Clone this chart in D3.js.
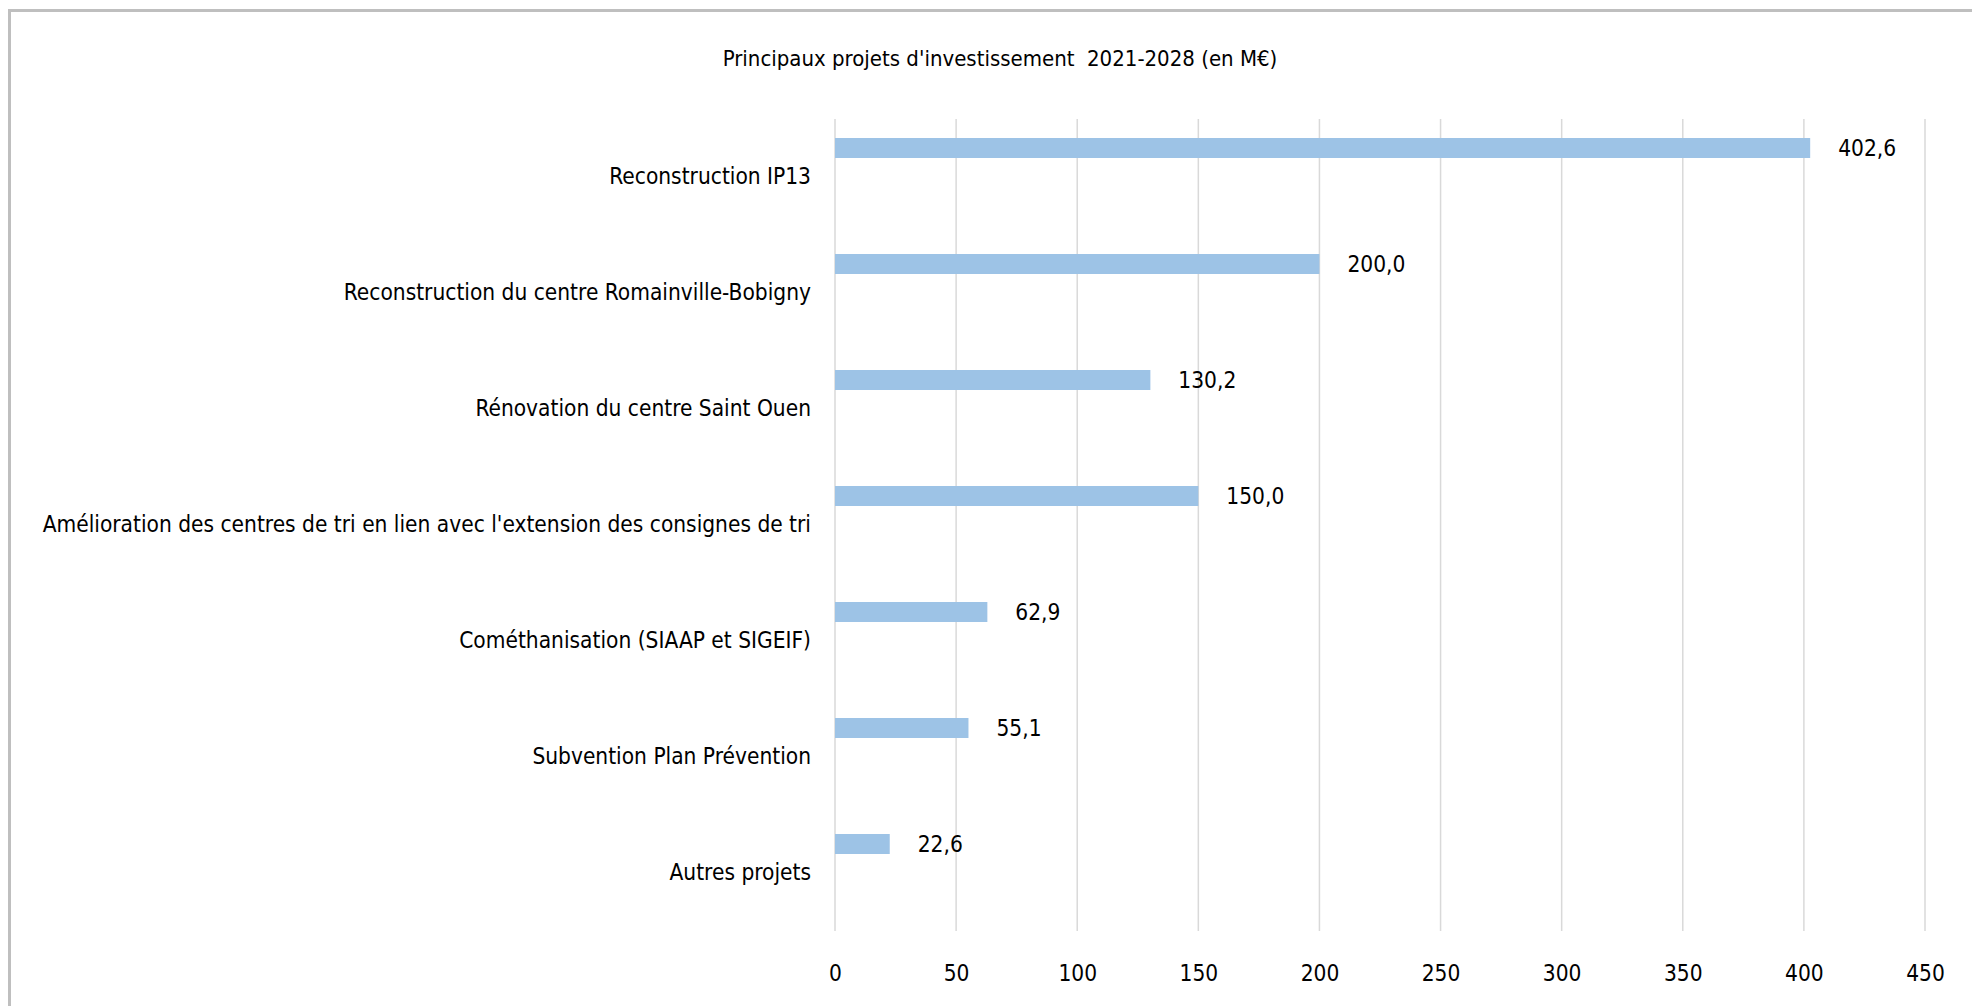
<!DOCTYPE html>
<html>
<head>
<meta charset="utf-8">
<script src="https://cdn.jsdelivr.net/npm/d3@7"></script>
<style>
  body { margin: 0; background: #fff; }
  text { font-family: "Liberation Sans Narrow", "DejaVu Sans Condensed", "Liberation Sans", sans-serif; fill: #000; }
</style>
</head>
<body>
<div id="chart"></div>
<script>
const categories = [
  'Reconstruction IP13',
  'Reconstruction du centre Romainville-Bobigny',
  'Rénovation du centre Saint Ouen',
  "Amélioration des centres de tri en lien avec l'extension des consignes de tri",
  'Cométhanisation (SIAAP et SIGEIF)',
  'Subvention Plan Prévention',
  'Autres projets'
]
const values = [402.6, 200.0, 130.2, 150.0, 62.9, 55.1, 22.6]
const ticks = [0, 50, 100, 150, 200, 250, 300, 350, 400, 450]
const title = "Principaux projets d'investissement  2021-2028 (en M€)"

const data = categories.map((c, i) => ({ name: c, value: values[i] }))

// chart dimensions
const W = 1972, H = 1006
const margin = { top: 119, right: 47, bottom: 75, left: 835 }
const width = W - margin.left - margin.right
const height = H - margin.top - margin.bottom
const fontSize = '22.5px'

const fmt = v => d3.format('.1f')(v).replace('.', ',')

const xScale = d3.scaleLinear()
  .domain([0, 450])
  .range([0, width])

const yScale = d3.scaleBand()
  .domain(categories)
  .range([0, height])

// excel draws the bar in the upper slot of the category, second slot stays empty
const slot = d3.scaleBand()
  .domain(['value', 'empty'])
  .range([0, yScale.bandwidth()])
const barH = 20

const svg = d3.select('#chart')
  .append('svg')
  .attr('width', W)
  .attr('height', H)

// frame
svg.append('path')
  .attr('d', `M9.5,${H} V10.5 H${W}`)
  .attr('fill', 'none')
  .attr('stroke', '#bfbfbf')
  .attr('stroke-width', 3)

svg.append('text')
  .attr('x', 1000)
  .attr('y', 66)
  .attr('text-anchor', 'middle')
  .style('font-size', '22px')
  .style('white-space', 'pre')
  .text(title)

const g = svg.append('g')
  .attr('transform', `translate(${margin.left}, ${margin.top})`)

// gridlines
g.append('g')
  .selectAll('line')
  .data(ticks)
  .join('line')
    .attr('x1', d => xScale(d))
    .attr('x2', d => xScale(d))
    .attr('y1', 0)
    .attr('y2', height)
    .attr('stroke', '#d9d9d9')
    .attr('stroke-width', 1.5)

// x axis labels
const xAxis = g.append('g')
  .attr('transform', `translate(0, ${height})`)
  .call(d3.axisBottom(xScale).tickValues(ticks).tickSize(0).tickPadding(34))
xAxis.select('.domain').remove()
xAxis.attr('font-family', null).attr('font-size', null)
xAxis.selectAll('text')
  .style('font-size', fontSize)

// category labels
const yAxis = g.append('g')
  .call(d3.axisLeft(yScale).tickSize(0).tickPadding(24))
yAxis.select('.domain').remove()
yAxis.attr('font-family', null).attr('font-size', null)
yAxis.selectAll('text')
  .style('font-size', fontSize)

// bars
const barY = d => yScale(d.name) + slot('value') + (slot.bandwidth() - barH) / 2

g.selectAll('.bar')
  .data(data)
  .join('rect')
    .attr('class', 'bar')
    .attr('x', 0)
    .attr('y', barY)
    .attr('width', d => xScale(d.value))
    .attr('height', barH)
    .attr('fill', '#9dc3e6')

// value labels
g.selectAll('.lbl')
  .data(data)
  .join('text')
    .attr('class', 'lbl')
    .attr('x', d => xScale(d.value) + 28)
    .attr('y', d => barY(d) + barH / 2)
    .attr('dy', '0.35em')
    .style('font-size', fontSize)
    .text(d => fmt(d.value))
</script>
</body>
</html>
